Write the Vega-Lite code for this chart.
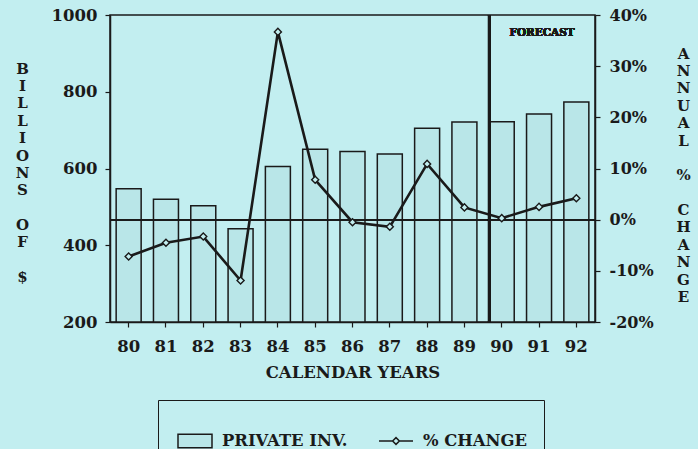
{
  "$schema": "https://vega.github.io/schema/vega-lite/v6.json",
  "width": 485,
  "height": 307,
  "autosize": "none",
  "padding": {"left": 110, "top": 15, "right": 103, "bottom": 127},
  "background": "#c2eef0",
  "config": {
    "view": {"stroke": "#1a1a1a", "strokeWidth": 1.5},
    "font": "DejaVu Serif",
    "axis": {
      "labelFont": "DejaVu Serif", "labelFontWeight": "bold", "labelFontSize": 16.5, "labelColor": "#1a1a1a",
      "titleFont": "DejaVu Serif", "titleFontWeight": "bold", "titleFontSize": 16.5, "titleColor": "#1a1a1a",
      "domainColor": "#1a1a1a", "domainWidth": 1.5, "tickColor": "#1a1a1a", "tickWidth": 1.2, "tickSize": 5, "grid": false
    },
    "legend": {
      "orient": "none", "direction": "horizontal", "padding": 0,
      "labelFont": "DejaVu Serif", "labelFontWeight": "bold", "labelFontSize": 16.4, "labelColor": "#1a1a1a",
      "labelOffset": 9, "labelLimit": 500, "symbolSize": 1156,
      "symbolStrokeColor": "#1a1a1a", "symbolStrokeWidth": 1.5, "symbolFillColor": "#c2eef0"
    }
  },
  "data": {
    "values": [
      {"year": "80", "inv": 547, "pct": -7.2},
      {"year": "81", "inv": 520, "pct": -4.5},
      {"year": "82", "inv": 503, "pct": -3.3},
      {"year": "83", "inv": 443, "pct": -11.9},
      {"year": "84", "inv": 605, "pct": 36.7},
      {"year": "85", "inv": 650, "pct": 7.8},
      {"year": "86", "inv": 644, "pct": -0.5},
      {"year": "87", "inv": 638, "pct": -1.4},
      {"year": "88", "inv": 705, "pct": 10.9},
      {"year": "89", "inv": 721, "pct": 2.4},
      {"year": "90", "inv": 722, "pct": 0.3},
      {"year": "91", "inv": 742, "pct": 2.5},
      {"year": "92", "inv": 773, "pct": 4.2}
    ]
  },
  "layer": [
    {
      "layer": [
        {
          "mark": {"type": "bar", "stroke": "#1a1a1a", "strokeWidth": 1.5},
          "encoding": {
            "x": {
              "field": "year", "type": "ordinal",
              "scale": {"paddingInner": 0.33, "paddingOuter": 0.165},
              "axis": {"title": "CALENDAR YEARS", "labelAngle": 0, "labelPadding": 11, "titlePadding": 10}
            },
            "y": {
              "field": "inv", "type": "quantitative",
              "scale": {"domain": [200, 1000], "zero": false},
              "axis": {
                "values": [200, 400, 600, 800, 1000], "format": "d", "labelPadding": 8,
                "title": ["B", "I", "L", "L", "I", "O", "N", "S", "\u200b", "O", "F", "\u200b", "$"],
                "titleAngle": 0, "titleX": -88, "titleY": 53, "titleBaseline": "middle", "titleAlign": "center",
                "titleFontSize": 15, "titleLineHeight": 17.4
              }
            },
            "y2": {"datum": 200},
            "fill": {
              "datum": "PRIVATE INV.",
              "scale": {"domain": ["PRIVATE INV."], "range": ["#b9e6e8"]},
              "legend": {
                "legendX": 67, "legendY": 408, "title": null,
                "symbolType": "M-1,-0.4H1V0.4H-1Z",
                "symbolFillColor": "#c2eef0"
              }
            }
          }
        }
      ]
    },
    {
      "layer": [
        {
          "mark": {"type": "rule", "color": "#1a1a1a", "strokeWidth": 1.3},
          "encoding": {
            "y": {
              "datum": 0, "type": "quantitative",
              "scale": {"domain": [-20, 40]},
              "axis": {
                "orient": "right", "values": [-20, -10, 0, 10, 20, 30, 40], "labelExpr": "datum.value + '%'",
                "labelPadding": 9, "labelFontSize": 16,
                "title": ["A", "N", "N", "U", "A", "L", "\u200b", "%", "\u200b", "C", "H", "A", "N", "G", "E"],
                "titleAngle": 0, "titleX": 88, "titleY": 38, "titleBaseline": "middle", "titleAlign": "center",
                "titleFontSize": 15, "titleLineHeight": 17.4
              }
            }
          }
        },
        {
          "mark": {"type": "rule", "color": "#1a1a1a", "strokeWidth": 2.5},
          "encoding": {"x": {"datum": "90", "type": "ordinal", "bandPosition": 0}}
        },
        {
          "mark": {"type": "line", "strokeWidth": 2.6},
          "encoding": {
            "x": {"field": "year", "type": "ordinal"},
            "y": {"field": "pct", "type": "quantitative"},
            "stroke": {
              "datum": "% CHANGE",
              "scale": {"domain": ["% CHANGE"], "range": ["#1a1a1a"]},
              "legend": {
                "legendX": 268, "legendY": 408, "title": null,
                "symbolType": "M-1,0H-0.2M0.2,0H1M-0.2,0L0,-0.2L0.2,0L0,0.2Z",
                "symbolFillColor": "#c2eef0", "symbolStrokeColor": "#1a1a1a"
              }
            }
          }
        },
        {
          "mark": {"type": "point", "filled": true, "fill": "#c2eef0", "stroke": "#1a1a1a", "strokeWidth": 1.4, "size": 50, "opacity": 1},
          "encoding": {
            "x": {"field": "year", "type": "ordinal"},
            "y": {"field": "pct", "type": "quantitative"},
            "shape": {
              "datum": "box",
              "scale": {"domain": ["box"], "range": ["diamond"]},
              "legend": {
                "legendX": 48, "legendY": 385, "title": null,
                "strokeColor": "#1a1a1a", "padding": 0,
                "symbolType": "square", "symbolSize": 147456, "symbolOpacity": 0,
                "labelOffset": 0, "labelExpr": "''"
              }
            }
          }
        },
        {
          "mark": {"type": "text", "font": "DejaVu Serif", "fontWeight": "bold", "fontSize": 10.5, "fill": "#1a1a1a"},
          "encoding": {
            "x": {"datum": "91", "type": "ordinal", "bandPosition": 0.62},
            "y": {"datum": 36.5, "type": "quantitative"},
            "text": {"value": "FORECAST"}
          }
        }
      ]
    }
  ],
  "resolve": {"scale": {"y": "independent"}}
}
